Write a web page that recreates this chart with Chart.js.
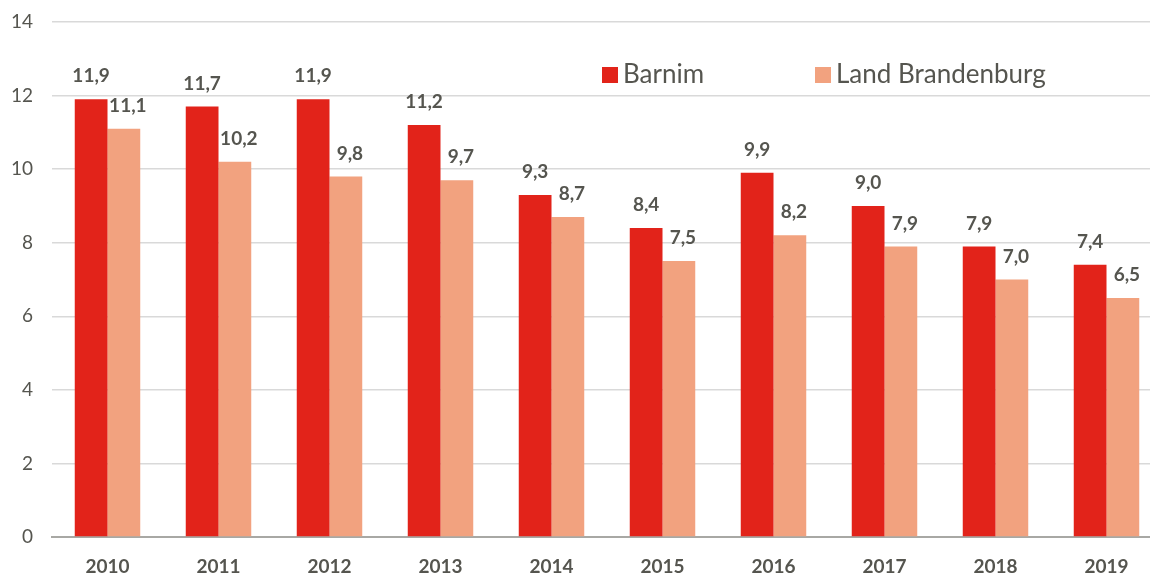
<!DOCTYPE html>
<html>
<head>
<meta charset="utf-8">
<script src="https://cdn.jsdelivr.net/npm/chart.js@4/dist/chart.umd.min.js"></script>
<style>
  html, body { margin: 0; padding: 0; background: #fff; }
  #clip { width: 1150px; height: 575px; overflow: hidden; position: relative; }
  #wrap { width: 1162px; height: 575px; position: relative; }
</style>
</head>
<body>
<div id="clip"><div id="wrap"><canvas id="chart"></canvas></div></div>
<script>
var years = ['2010', '2011', '2012', '2013', '2014', '2015', '2016', '2017', '2018', '2019'];
var barnim = [11.9, 11.7, 11.9, 11.2, 9.3, 8.4, 9.9, 9.0, 7.9, 7.4];
var brandenburg = [11.1, 10.2, 9.8, 9.7, 8.7, 7.5, 8.2, 7.9, 7.0, 6.5];
var seriesNames = ['Barnim', 'Land Brandenburg'];
var yTicks = [0, 2, 4, 6, 8, 10, 12, 14];

var textColor = '#55554f';
var fontFamily = 'Lato, "Open Sans", sans-serif';

function fmt(v) {
    return v.toFixed(1).replace('.', ',');
}

// value labels above each bar
var valueLabels = {
    id: 'valueLabels',
    afterDatasetsDraw: function (chart) {
        var ctx = chart.ctx;
        ctx.save();
        ctx.font = 'bold 19px ' + fontFamily;
        ctx.fillStyle = textColor;
        ctx.textAlign = 'center';
        ctx.textBaseline = 'middle';
        chart.data.datasets.forEach(function (ds, i) {
            var meta = chart.getDatasetMeta(i);
            meta.data.forEach(function (bar, j) {
                var dx = i === 1 ? 4 : 0;
                ctx.fillText(fmt(ds.data[j]), bar.x + dx, bar.y - 23);
            });
        });
        ctx.restore();
    }
};

// legend drawn inside the plot, top right
var innerLegend = {
    id: 'innerLegend',
    afterDraw: function (chart) {
        var ctx = chart.ctx;
        var pos = [602, 815];
        ctx.save();
        ctx.font = '26px ' + fontFamily;
        ctx.textBaseline = 'middle';
        ctx.textAlign = 'left';
        chart.data.datasets.forEach(function (ds, i) {
            ctx.fillStyle = ds.backgroundColor;
            ctx.fillRect(pos[i], 67, 16, 16);
            ctx.fillStyle = textColor;
            ctx.fillText(ds.label, pos[i] + 21, 75);
        });
        ctx.restore();
    }
};

new Chart(document.getElementById('chart'), {
    type: 'bar',
    data: {
        labels: years,
        datasets: [
            {
                label: seriesNames[0],
                data: barnim,
                backgroundColor: '#e2231a',
                categoryPercentage: 0.59,
                barPercentage: 1.0
            },
            {
                label: seriesNames[1],
                data: brandenburg,
                backgroundColor: '#f2a27f',
                categoryPercentage: 0.59,
                barPercentage: 1.0
            }
        ]
    },
    options: {
        responsive: true,
        maintainAspectRatio: false,
        animation: false,
        layout: {
            padding: { top: 22, right: 0, bottom: 0, left: 0 }
        },
        plugins: {
            legend: { display: false },
            tooltip: { enabled: false }
        },
        scales: {
            x: {
                grid: { display: false },
                border: { display: true, color: '#a8a8a4', width: 2 },
                ticks: {
                    color: textColor,
                    font: { family: fontFamily, size: 19, weight: 'bold' },
                    padding: 10
                },
                afterFit: function (s) { s.height = 38; }
            },
            y: {
                min: 0,
                max: 14,
                afterBuildTicks: function (s) {
                    s.ticks = yTicks.map(function (v) { return { value: v }; });
                },
                grid: {
                    color: '#d9d9d9',
                    lineWidth: 1.5,
                    drawTicks: false
                },
                border: { display: false },
                ticks: {
                    color: textColor,
                    // small lineHeight so the tick padding doesn't push the plot top down
                    font: { family: fontFamily, size: 19, lineHeight: 0.3 },
                    padding: 19
                },
                afterFit: function (s) { s.width = 52; }
            }
        }
    },
    plugins: [valueLabels, innerLegend]
});
</script>
</body>
</html>
